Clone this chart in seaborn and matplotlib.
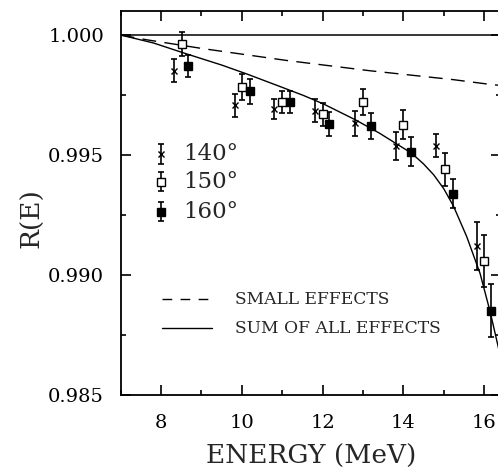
import seaborn as sns
import matplotlib.pyplot as plt
from matplotlib.ticker import MultipleLocator

# curves
e_small = [7.0, 7.65, 9.05, 11.11, 13.18, 15.24, 16.07, 16.5]
r_small = [1.0, 0.99980, 0.99943, 0.99894, 0.99851, 0.99814, 0.99796, 0.99788]
e_sum = [7.0, 7.81, 8.64, 9.5, 10.12, 11.0, 11.53, 12.02, 12.81, 13.4, 13.81,
         14.21, 14.5, 14.75, 15.0, 15.24, 15.57, 15.90, 16.15, 16.35, 16.5]
r_sum = [1.0, 0.99967, 0.99921, 0.99875, 0.99838, 0.99782, 0.99748, 0.99713,
         0.99647, 0.99592, 0.99549, 0.99507, 0.99463, 0.99418, 0.99360,
         0.99288, 0.99160, 0.99007, 0.98847, 0.98701, 0.98585]

# measured points
e_140 = [8.31, 9.83, 10.80, 11.81, 12.81, 13.81, 14.82, 15.82]
r_140 = [0.99851, 0.99707, 0.99690, 0.99685, 0.99633, 0.99536, 0.99539, 0.99121]
err_140 = [0.00047, 0.00049, 0.00042, 0.00049, 0.00052, 0.00058, 0.00049, 0.00100]
e_150 = [8.51, 10.01, 11.00, 12.01, 13.01, 14.00, 15.03, 15.99]
r_150 = [0.99963, 0.99782, 0.99722, 0.99670, 0.99720, 0.99626, 0.99440, 0.99060]
err_150 = [0.00050, 0.00054, 0.00045, 0.00048, 0.00054, 0.00060, 0.00070, 0.00108]
e_160 = [8.67, 10.20, 11.20, 12.15, 13.21, 14.20, 15.23, 16.17]
r_160 = [0.99871, 0.99765, 0.99722, 0.99630, 0.99622, 0.99513, 0.99339, 0.98851]
err_160 = [0.00047, 0.00051, 0.00045, 0.00051, 0.00055, 0.00060, 0.00059, 0.00110]

angle_labels = ['140°', '150°', '160°']
line_labels = ['SMALL EFFECTS', 'SUM OF ALL EFFECTS']

sns.set_style("ticks")
plt.rcParams['font.family'] = ['DejaVu Serif']

fig = plt.figure(figsize=(4.98, 4.75), dpi=100)
ax = fig.add_axes([0.2422, 0.1684, 0.7639, 0.8084])

ax.axhline(1.0, color='black', lw=1.1)
sns.lineplot(x=e_small, y=r_small, ax=ax, color='black', lw=1.0,
             linestyle=(0, (10, 6)), sort=True, estimator=None)
sns.lineplot(x=e_sum, y=r_sum, ax=ax, color='black', lw=1.0,
             sort=True, estimator=None)

styles = [
    dict(marker='x', ms=4.5, mfc='black', mew=1.0),
    dict(marker='s', ms=5.2, mfc='white', mew=1.0),
    dict(marker='s', ms=5.8, mfc='black', mew=1.0),
]
series = [(e_140, r_140, err_140), (e_150, r_150, err_150), (e_160, r_160, err_160)]
for (e, r, err), st in zip(series, styles):
    ax.errorbar(e, r, yerr=err, fmt='none', ecolor='black', elinewidth=1.2,
                capsize=2.5, capthick=1.2, zorder=3)
    ax.plot(e, r, ls='none', color='black', mec='black', zorder=4, **st)

# legend, drawn by hand like the original
leg_y = [0.99504, 0.99388, 0.99264]
for lab, y, st in zip(angle_labels, leg_y, styles):
    ax.errorbar([8.0], [y], yerr=[0.00040], fmt='none', ecolor='black',
                elinewidth=1.2, capsize=2.5, capthick=1.2)
    ax.plot([8.0], [y], ls='none', color='black', mec='black', **st)
    ax.text(8.55, y, lab, va='center', ha='left', fontsize=16.5)

ax.plot([8.03, 9.27], [0.98900, 0.98900], color='black', lw=1.0,
        linestyle=(0, (7, 6)))
ax.plot([8.03, 9.27], [0.98779, 0.98779], color='black', lw=1.0)
ax.text(9.83, 0.98900, line_labels[0], va='center', ha='left', fontsize=12.3)
ax.text(9.83, 0.98779, line_labels[1], va='center', ha='left', fontsize=12.3)

ax.set_xlim(7.0, 16.42)
ax.set_ylim(0.985, 1.001)
ax.set_xticks([8, 10, 12, 14, 16])
ax.set_yticks([0.985, 0.990, 0.995, 1.000])
ax.set_yticklabels(['0.985', '0.990', '0.995', '1.000'])
ax.xaxis.set_minor_locator(MultipleLocator(1))
ax.yaxis.set_minor_locator(MultipleLocator(0.0025))
ax.tick_params(which='both', direction='in', top=True, right=True,
               width=1.2, colors='black')
ax.tick_params(which='major', length=7, labelsize=14)
ax.tick_params(which='minor', length=3.5)
ax.tick_params(axis='x', pad=14)
ax.tick_params(axis='y', pad=12)
for s in ax.spines.values():
    s.set_linewidth(1.3)
    s.set_color('black')

ax.set_xlabel('ENERGY (MeV)', fontsize=19, labelpad=8)
ax.set_ylabel('R(E)', fontsize=19)
ax.yaxis.set_label_coords(-0.2, 0.46)

fig.savefig('out.png', dpi=100)
